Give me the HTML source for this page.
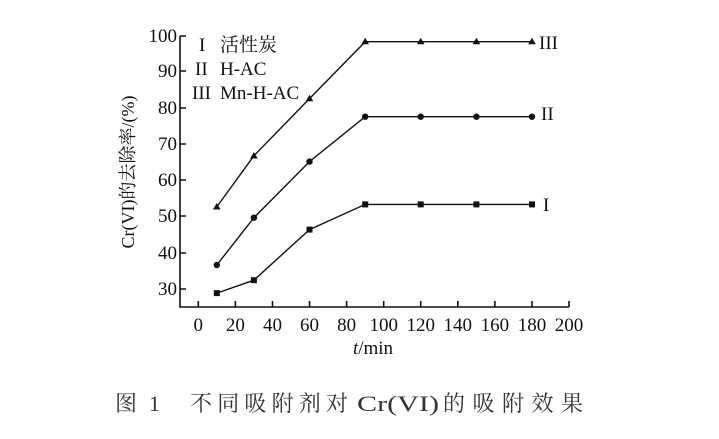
<!DOCTYPE html>
<html><head><meta charset="utf-8"><style>
body{margin:0;background:#fff;width:719px;height:434px;overflow:hidden}
text{font-family:"Liberation Serif","Noto Serif CJK SC",serif;fill:#111}
</style></head><body>
<svg width="719" height="434" viewBox="0 0 719 434" xmlns="http://www.w3.org/2000/svg">
<g stroke="#111" stroke-width="1.6" fill="none">
<polyline points="180,36 180,307 569,307"/>
<path d="M180,36h6M180,71h6M180,108h6M180,144h6M180,180h6M180,216h6M180,253h6M180,289h6"/>
<path d="M198.3,307v-6M235.4,307v-6M272.5,307v-6M309.5,307v-6M346.6,307v-6M383.7,307v-6M420.7,307v-6M457.8,307v-6M494.9,307v-6M532,307v-6M569,307v-6"/>
</g>
<g stroke="#111" stroke-width="1.4" fill="none">
<polyline points="216.8,293.1 253.9,280.2 309.5,229.6 365.2,204.4 420.7,204.4 476.4,204.4 532,204.4"/>
<polyline points="216.8,265 253.9,217.7 309.5,161.6 365.2,116.7 420.7,116.7 476.4,116.7 532,116.7"/>
<polyline points="216.8,206.9 253.9,155.8 309.5,98.6 365.2,41.7 420.7,41.7 476.4,41.7 532,41.7"/>
</g>
<g fill="#111">
<rect x="213.8" y="290.1" width="6" height="6"/><rect x="250.9" y="277.2" width="6" height="6"/><rect x="306.5" y="226.6" width="6" height="6"/><rect x="362.2" y="201.4" width="6" height="6"/><rect x="417.7" y="201.4" width="6" height="6"/><rect x="473.4" y="201.4" width="6" height="6"/><rect x="529" y="201.4" width="6" height="6"/>
<circle cx="216.8" cy="265" r="3.2"/><circle cx="253.9" cy="217.7" r="3.2"/><circle cx="309.5" cy="161.6" r="3.2"/><circle cx="365.2" cy="116.7" r="3.2"/><circle cx="420.7" cy="116.7" r="3.2"/><circle cx="476.4" cy="116.7" r="3.2"/><circle cx="532" cy="116.7" r="3.2"/>
<path d="M216.8,203l3.8,6.5h-7.6zM253.9,152l3.8,6.5h-7.6zM309.5,94.7l3.8,6.5h-7.6zM365.2,37.8l3.8,6.5h-7.6zM420.7,37.8l3.8,6.5h-7.6zM476.4,37.8l3.8,6.5h-7.6zM532,37.8l3.8,6.5h-7.6z"/>
</g>
<g font-size="19" text-anchor="end">
<text x="177" y="42">100</text><text x="177" y="77">90</text><text x="177" y="114">80</text><text x="177" y="150">70</text><text x="177" y="186">60</text><text x="177" y="222">50</text><text x="177" y="259">40</text><text x="177" y="295">30</text>
</g>
<g font-size="19" text-anchor="middle">
<text x="198.3" y="331">0</text><text x="235.4" y="331">20</text><text x="272.5" y="331">40</text><text x="309.5" y="331">60</text><text x="346.6" y="331">80</text><text x="383.7" y="331">100</text><text x="420.7" y="331">120</text><text x="457.8" y="331">140</text><text x="494.9" y="331">160</text><text x="532" y="331">180</text><text x="569" y="331">200</text>
<text x="373" y="354"><tspan font-style="italic">t</tspan>/min</text>
</g>
<g font-size="19">
<text x="199" y="51">I</text><text x="220" y="51">活性炭</text>
<text x="195" y="75">II</text><text x="220" y="75">H-AC</text>
<text x="192" y="99">III</text><text x="220" y="99">Mn-H-AC</text>
<text x="539" y="49">III</text><text x="541" y="120">II</text><text x="543" y="211">I</text>
</g>
<text transform="translate(134,172) rotate(-90)" font-size="18" text-anchor="middle">Cr(VI)的去除率/(%)</text>
<g font-size="22" style="fill:#333">
<text x="115" y="411" style="fill:#333">图</text>
<text x="149" y="411" style="fill:#333">1</text>
<text x="190" y="411" textLength="158" lengthAdjust="spacing" style="fill:#333">不同吸附剂对</text>
<text x="357" y="411" textLength="82" lengthAdjust="spacingAndGlyphs" style="fill:#333">Cr(VI)</text>
<text x="443" y="411" textLength="140" lengthAdjust="spacing" style="fill:#333">的吸附效果</text>
</g>
</svg>
</body></html>
